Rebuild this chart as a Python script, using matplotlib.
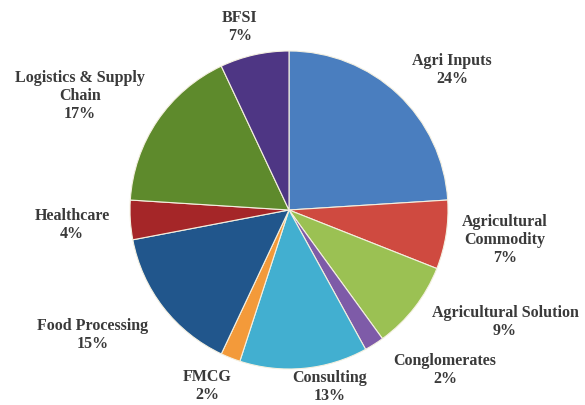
import matplotlib.pyplot as plt

# Data: share of each sector (%)
sectors = ['Agri Inputs', 'Agricultural\nCommodity', 'Agricultural Solution', 'Conglomerates',
           'Consulting', 'FMCG', 'Food Processing', 'Healthcare',
           'Logistics & Supply\nChain', 'BFSI']
shares = [24, 7, 9, 2, 13, 2, 15, 4, 17, 7]
colors = ['#4a7ebf', '#cf4a40', '#9bc153', '#7e5ba8', '#42afd0',
          '#f39a3a', '#21568c', '#a52628', '#5e8a2c', '#4e3684']

# label anchor points in pixels (x, y from top)
label_px = [(452, 70), (505, 240), (505, 322), (445, 370), (330, 387),
            (207, 386), (93, 335), (72, 225), (80, 96), (240, 27)]

W, H = 585, 406
cx, cy, r = 289, 211, 159

fig = plt.figure(figsize=(W / 100, H / 100), dpi=100)
ax = fig.add_axes([0, 0, 1, 1])

ax.pie(shares, colors=colors, startangle=90, counterclock=False, radius=1,
       wedgeprops=dict(edgecolor='#f4f0e0', linewidth=0.8))

ax.set_xlim(-cx / r, (W - cx) / r)
ax.set_ylim((cy - H) / r, cy / r)
ax.set_aspect('equal')
ax.axis('off')

for name, val, (px, py) in zip(sectors, shares, label_px):
    ax.text((px - cx) / r, (cy - py) / r, f'{name}\n{val}%', ha='center', va='center',
            fontsize=11.5, fontweight='bold', family='Liberation Serif',
            color='#3a3a3a', linespacing=1.15)

fig.savefig('out.png', dpi=100)
